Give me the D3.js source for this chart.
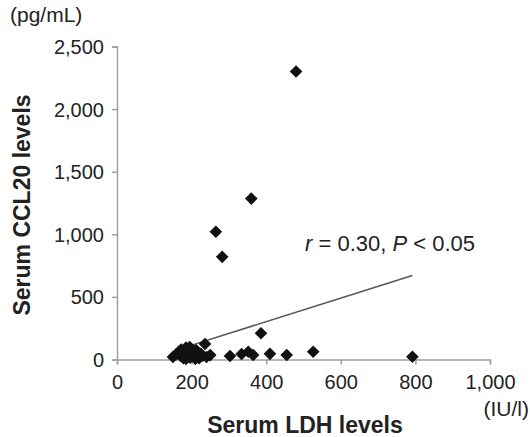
<!DOCTYPE html>
<html><head><meta charset="utf-8">
<script src="https://cdn.jsdelivr.net/npm/d3@7"></script>
<style>body{margin:0;background:#fff}svg{display:block}text{font-family:Arial,"Liberation Sans",sans-serif}</style>
</head><body>
<script>
const ldh = [480,360,265,282,386,236,526,792,455,410,365,352,334,303,
  150,158,165,170,172,178,182,185,188,192,196,200,204,208,212,216,220,225,230,240,250,185,195,210];
const ccl20 = [2300,1285,1020,820,210,124,62,22,36,45,36,62,44,28,
  20,40,60,30,80,10,50,95,25,70,15,60,35,20,75,40,10,45,30,20,35,5,100,5];
const xTicks = [0,200,400,600,800,1000];
const yTicks = [0,500,1000,1500,2000,2500];
const fitX = [190,792];
const fitY = [105,671];

const W=530,H=437;
const svg=d3.select("body").append("svg").attr("width",W).attr("height",H);
const x=d3.scaleLinear().domain([0,1000]).range([117,490]);
const y=d3.scaleLinear().domain([0,2500]).range([359.5,46.5]);
const fmt=d3.format(",");

const gx=svg.append("g").attr("transform","translate(0,359.5)")
  .call(d3.axisBottom(x).tickValues(xTicks).tickFormat(fmt).tickSize(5).tickSizeOuter(5));
const gy=svg.append("g").attr("transform","translate(117,0)")
  .call(d3.axisLeft(y).tickValues(yTicks).tickFormat(fmt).tickSize(5).tickSizeOuter(5));
[gx,gy].forEach(g=>{
  g.selectAll("path,line").attr("stroke","#a0a0a0").attr("stroke-width",1.5);
  g.selectAll("text").attr("font-size",20).attr("fill","#222");
});
gx.selectAll("text").attr("dy","1.05em");
gy.selectAll("text").attr("dx","-5").attr("dy","0.35em");

svg.append("line").attr("x1",x(fitX[0])).attr("y1",y(fitY[0])).attr("x2",x(fitX[1])).attr("y2",y(fitY[1]))
  .attr("stroke","#555").attr("stroke-width",1.5);

svg.append("g").selectAll("path").data(ldh.map((d,i)=>[d,ccl20[i]])).join("path")
  .attr("d",d3.symbol().type(d3.symbolSquare).size(80))
  .attr("transform",d=>`translate(${x(d[0])},${y(d[1])}) rotate(45)`)
  .attr("fill","#111");

svg.append("text").attr("x",10).attr("y",22).attr("font-size",21).attr("fill","#222").text("(pg/mL)");
svg.append("text").attr("x",529).attr("y",416).attr("text-anchor","end").attr("font-size",21).attr("fill","#222").text("(IU/l)");
svg.append("text").attr("x",305).attr("y",433).attr("text-anchor","middle").attr("font-size",23).attr("font-weight","bold").attr("fill","#222").text("Serum LDH levels");
svg.append("text").attr("transform","translate(30,205) rotate(-90)").attr("text-anchor","middle").attr("font-size",23).attr("font-weight","bold").attr("fill","#222").text("Serum CCL20 levels");
const t=svg.append("text").attr("x",305).attr("y",251).attr("font-size",22).attr("fill","#222");
t.append("tspan").attr("font-style","italic").text("r");
t.append("tspan").text(" = 0.30, ");
t.append("tspan").attr("font-style","italic").text("P");
t.append("tspan").text(" < 0.05");
</script>
</body></html>
